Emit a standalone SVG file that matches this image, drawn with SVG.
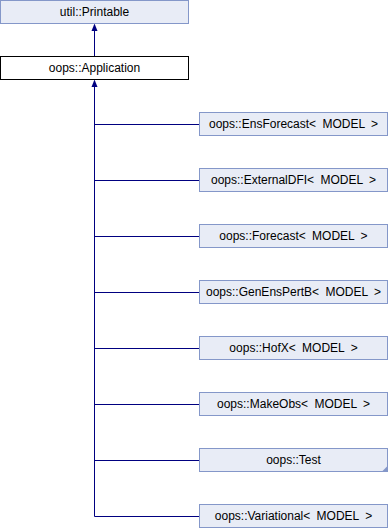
<svg xmlns="http://www.w3.org/2000/svg" width="388" height="528" viewBox="0 0 388 528">
<defs>
<style>
.n rect{fill:#E8ECF6;stroke:#8497C9;stroke-width:1}
.n.cur rect{fill:#FFFFFF;stroke:#000000}
.n text{font-family:"Liberation Sans",Arial,sans-serif;font-size:12px;fill:#000;text-anchor:middle;word-spacing:3px}
.e{stroke:#000080;stroke-width:1;fill:none}
.ah{fill:#000080;stroke:none}
</style>
</defs>
<rect width="388" height="528" fill="#fff"/>
<g id="connectors">
<line class="e" x1="94.5" y1="30" x2="94.5" y2="56"/>
<path class="ah" d="M94.5,23.5 L91.5,31 L97.5,31 Z"/>
<line class="e" x1="94.5" y1="86" x2="94.5" y2="516.5"/>
<path class="ah" d="M94.5,79.5 L91.5,87 L97.5,87 Z"/>
<line class="e" x1="94.5" y1="124.5" x2="199" y2="124.5"/>
<line class="e" x1="94.5" y1="180.5" x2="199" y2="180.5"/>
<line class="e" x1="94.5" y1="236.5" x2="199" y2="236.5"/>
<line class="e" x1="94.5" y1="292.5" x2="199" y2="292.5"/>
<line class="e" x1="94.5" y1="348.5" x2="199" y2="348.5"/>
<line class="e" x1="94.5" y1="404.5" x2="199" y2="404.5"/>
<line class="e" x1="94.5" y1="460.5" x2="199" y2="460.5"/>
<line class="e" x1="94.5" y1="516.5" x2="199" y2="516.5"/>
</g>
<g id="printable" class="n"><rect x="0.5" y="0.5" width="188" height="23"/><text x="94.5" y="16">util::Printable</text></g>
<g id="application" class="n cur"><rect x="0.5" y="56.5" width="188" height="23"/><text x="94.5" y="72">oops::Application</text></g>
<g id="ensforecast" class="n"><rect x="199.5" y="112.5" width="188" height="23"/><text x="293.5" y="128">oops::EnsForecast&lt; MODEL &gt;</text></g>
<g id="externaldfi" class="n"><rect x="199.5" y="168.5" width="188" height="23"/><text x="293.5" y="184">oops::ExternalDFI&lt; MODEL &gt;</text></g>
<g id="forecast" class="n"><rect x="199.5" y="224.5" width="188" height="23"/><text x="293.5" y="240">oops::Forecast&lt; MODEL &gt;</text></g>
<g id="genenspertb" class="n"><rect x="199.5" y="280.5" width="188" height="23"/><text x="293.5" y="296">oops::GenEnsPertB&lt; MODEL &gt;</text></g>
<g id="hofx" class="n"><rect x="199.5" y="336.5" width="188" height="23"/><text x="293.5" y="352">oops::HofX&lt; MODEL &gt;</text></g>
<g id="makeobs" class="n"><rect x="199.5" y="392.5" width="188" height="23"/><text x="293.5" y="408">oops::MakeObs&lt; MODEL &gt;</text></g>
<g id="test" class="n"><rect x="199.5" y="448.5" width="188" height="23"/><text x="293.5" y="464">oops::Test</text><polygon points="381.5,472 388,472 388,465.5" fill="#8497C9"/></g>
<g id="variational" class="n"><rect x="199.5" y="504.5" width="188" height="23"/><text x="293.5" y="520">oops::Variational&lt; MODEL &gt;</text></g>
</svg>
